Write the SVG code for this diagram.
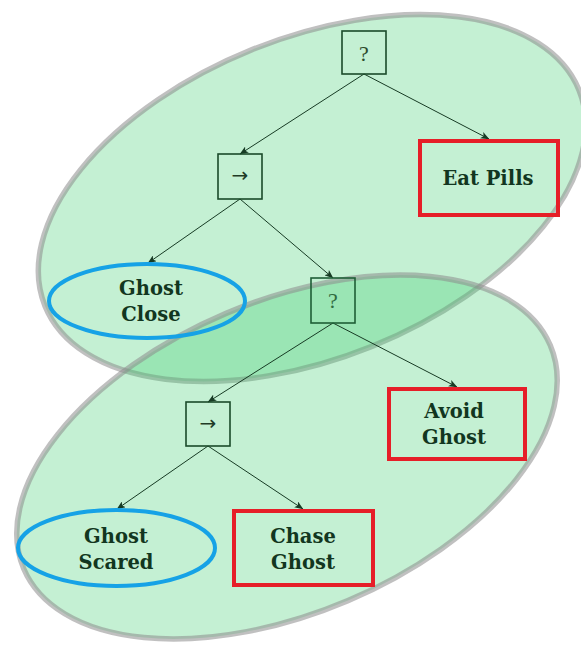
<svg xmlns="http://www.w3.org/2000/svg" width="581" height="646" viewBox="0 0 581 646">
  <defs>
    <style>
      .group { fill: #33cc66; fill-opacity: 0.29; stroke: #8c8c8c; stroke-opacity: 0.55; stroke-width: 5.5; }
      .box { fill: none; stroke: #1b4a2a; stroke-width: 1.6; }
      .box2 { fill: none; stroke: #1f5e36; stroke-width: 1.6; }
      .sym { font-family: "Liberation Serif", "DejaVu Serif", serif; font-size: 22px; fill: #2c4a2c; text-anchor: middle; }
      .arr { font-family: "DejaVu Sans", sans-serif; font-size: 20px; fill: #1f3b26; text-anchor: middle; }
      .label { font-family: "DejaVu Serif", serif; font-weight: bold; font-size: 19.5px; fill: #123620; text-anchor: middle; }
      .act { fill: none; stroke: #e61e28; stroke-width: 4; }
      .cond { fill: none; stroke: #16a2e6; stroke-width: 4; }
      .edge { fill: none; stroke: #173b24; stroke-width: 1; marker-end: url(#head); }
    </style>
    <marker id="head" viewBox="0 0 10 8" refX="9.5" refY="4" markerWidth="9" markerHeight="7" markerUnits="userSpaceOnUse" orient="auto">
      <path d="M0,0 L10,4 L0,8 L2.5,4 z" fill="#173b24"/>
    </marker>
  </defs>

  <!-- subtree groupings -->
  <g id="groups">
    <ellipse class="group" cx="312" cy="198" rx="288" ry="160" transform="rotate(-22 312 198)"/>
    <ellipse class="group" cx="287" cy="457" rx="286" ry="156" transform="rotate(-23 287 457)"/>
  </g>

  <!-- connectors -->
  <g id="edges">
    <line class="edge" x1="364" y1="74" x2="240" y2="154"/>
    <line class="edge" x1="364" y1="74" x2="489" y2="139"/>
    <line class="edge" x1="240" y1="199" x2="148" y2="263"/>
    <line class="edge" x1="240" y1="199" x2="333" y2="278"/>
    <line class="edge" x1="333" y1="323" x2="208" y2="402"/>
    <line class="edge" x1="333" y1="323" x2="457" y2="387"/>
    <line class="edge" x1="208" y1="446" x2="117" y2="509"/>
    <line class="edge" x1="208" y1="446" x2="303" y2="509"/>
  </g>

  <!-- selector (root) -->
  <g id="selector1">
    <rect class="box" x="342" y="31" width="44" height="43"/>
    <text class="sym" x="364" y="60.5">?</text>
  </g>

  <!-- sequence -->
  <g id="sequence1">
    <rect class="box" x="218" y="154" width="44" height="45"/>
    <text class="arr" x="240" y="182">→</text>
  </g>

  <g id="eat-pills">
    <rect class="act" x="420" y="141" width="138" height="74"/>
    <text class="label" x="488" y="184.5">Eat Pills</text>
  </g>

  <g id="ghost-close">
    <ellipse class="cond" cx="147" cy="301" rx="98" ry="37"/>
    <text class="label" x="151" y="294.5">Ghost</text>
    <text class="label" x="151" y="321">Close</text>
  </g>

  <!-- selector -->
  <g id="selector2">
    <rect class="box2" x="311" y="278" width="44" height="45"/>
    <text class="sym" x="333" y="307.5" style="fill:#2f6a40">?</text>
  </g>

  <g id="avoid-ghost">
    <rect class="act" x="389" y="389" width="136" height="70"/>
    <text class="label" x="454" y="417.5">Avoid</text>
    <text class="label" x="454" y="444">Ghost</text>
  </g>

  <!-- sequence -->
  <g id="sequence2">
    <rect class="box" x="186" y="402" width="44" height="44"/>
    <text class="arr" x="208" y="430">→</text>
  </g>

  <g id="ghost-scared">
    <ellipse class="cond" cx="116.5" cy="548" rx="98.5" ry="38"/>
    <text class="label" x="116" y="542.5">Ghost</text>
    <text class="label" x="116" y="569">Scared</text>
  </g>

  <g id="chase-ghost">
    <rect class="act" x="234" y="511" width="139" height="74"/>
    <text class="label" x="303" y="542.5">Chase</text>
    <text class="label" x="303" y="569">Ghost</text>
  </g>
</svg>
